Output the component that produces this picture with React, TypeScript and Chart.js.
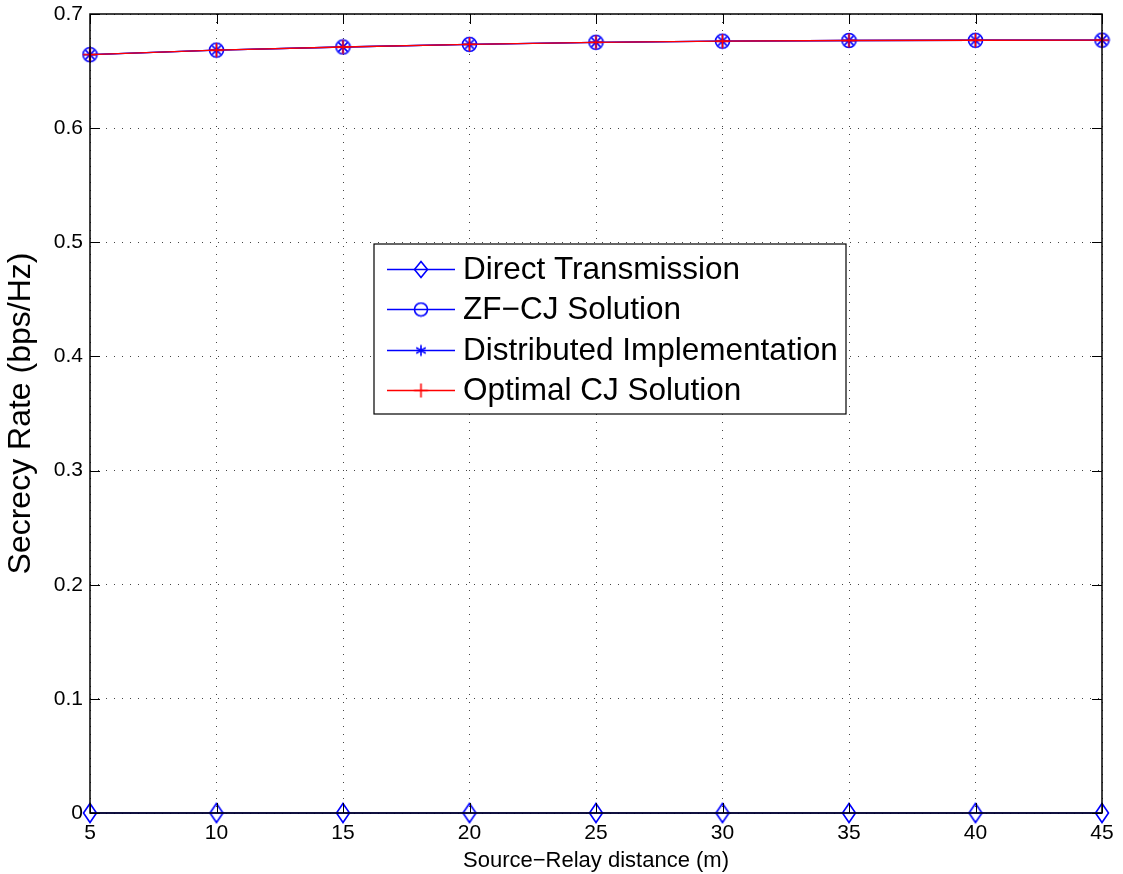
import React, { useEffect, useRef } from "react";
import { Chart, registerables } from "chart.js";

Chart.register(...registerables);

const distances = [5, 10, 15, 20, 25, 30, 35, 40, 45];
const directTransmission = [0, 0, 0, 0, 0, 0, 0, 0, 0];
const zfCjSolution = [0.6644, 0.6684, 0.6711, 0.6734, 0.6752, 0.6762, 0.6768, 0.677, 0.6771];
const distributedImpl = [0.6644, 0.6684, 0.6711, 0.6734, 0.6752, 0.6762, 0.6768, 0.677, 0.6771];
const optimalCj = [0.6644, 0.6684, 0.6711, 0.6734, 0.6752, 0.6762, 0.6768, 0.677, 0.6771];
const seriesLabels = [
  "Direct Transmission",
  "ZF\u2212CJ Solution",
  "Distributed Implementation",
  "Optimal CJ Solution",
];
const yTicks = [0, 0.1, 0.2, 0.3, 0.4, 0.5, 0.6, 0.7];

const BLUE = "#0000ff";
const RED = "#ff0000";
const FONT = "'Liberation Sans', Arial, Helvetica, sans-serif";

function makeMarker(kind: string, color: string, w: number, h: number): HTMLCanvasElement {
  const c = document.createElement("canvas");
  c.width = w + 3;
  c.height = h + 3;
  const ctx = c.getContext("2d")!;
  ctx.strokeStyle = color;
  ctx.lineWidth = 1.6;
  const cx = c.width / 2;
  const cy = c.height / 2;
  const rx = w / 2;
  const ry = h / 2;
  ctx.beginPath();
  if (kind === "diamond") {
    ctx.moveTo(cx, cy - ry);
    ctx.lineTo(cx + rx, cy);
    ctx.lineTo(cx, cy + ry);
    ctx.lineTo(cx - rx, cy);
    ctx.closePath();
  } else if (kind === "circle") {
    ctx.arc(cx, cy, rx, 0, Math.PI * 2);
  } else if (kind === "star") {
    for (let k = 0; k < 4; k++) {
      const a = (k * Math.PI) / 4;
      ctx.moveTo(cx + Math.cos(a) * rx, cy + Math.sin(a) * ry);
      ctx.lineTo(cx - Math.cos(a) * rx, cy - Math.sin(a) * ry);
    }
  } else if (kind === "star6") {
    for (let k = 0; k < 3; k++) {
      const a = Math.PI / 2 + (k * Math.PI) / 3;
      ctx.moveTo(cx + Math.cos(a) * rx, cy + Math.sin(a) * ry);
      ctx.lineTo(cx - Math.cos(a) * rx, cy - Math.sin(a) * ry);
    }
  } else if (kind === "plus") {
    ctx.moveTo(cx, cy - ry);
    ctx.lineTo(cx, cy + ry);
    ctx.moveTo(cx - rx, cy);
    ctx.lineTo(cx + rx, cy);
  }
  ctx.stroke();
  return c;
}

export default function App() {
  const ref = useRef<HTMLCanvasElement | null>(null);

  useEffect(() => {
    if (!ref.current) return;
    const markers = [
      makeMarker("diamond", BLUE, 13, 19),
      makeMarker("circle", BLUE, 14, 14),
      makeMarker("star", BLUE, 13, 13),
      makeMarker("plus", RED, 14, 14),
    ];
    const legendMarkers = [
      makeMarker("diamond", BLUE, 13, 16),
      makeMarker("circle", BLUE, 13, 13),
      makeMarker("star6", BLUE, 11, 11),
      makeMarker("plus", RED, 14, 14),
    ];
    const colors = [BLUE, BLUE, BLUE, RED];
    const seriesData = [directTransmission, zfCjSolution, distributedImpl, optimalCj];

    const frame = {
      id: "frame",
      afterDatasetsDraw(chart: any) {
        const { ctx, chartArea } = chart;
        const { left, right, top, bottom } = chartArea;
        ctx.save();
        ctx.strokeStyle = "#000";
        ctx.lineWidth = 1;
        ctx.beginPath();
        const xs = chart.scales.x;
        const ys = chart.scales.y;
        const len = 10;
        distances.forEach((d) => {
          const px = Math.round(xs.getPixelForValue(d)) + 0.5;
          ctx.moveTo(px, bottom);
          ctx.lineTo(px, bottom - len);
          ctx.moveTo(px, top);
          ctx.lineTo(px, top + len);
        });
        yTicks.forEach((v) => {
          const py = Math.round(ys.getPixelForValue(v)) + 0.5;
          ctx.moveTo(left, py);
          ctx.lineTo(left + len, py);
          ctx.moveTo(right, py);
          ctx.lineTo(right - len, py);
        });
        ctx.stroke();
        ctx.lineWidth = 1.5;
        ctx.strokeRect(left, top, right - left, bottom - top);

        // legend box
        const bx = 374, by = 244, bw = 472, bh = 170;
        ctx.fillStyle = "#fff";
        ctx.fillRect(bx, by, bw, bh);
        ctx.lineWidth = 1.2;
        ctx.strokeStyle = "#000";
        ctx.strokeRect(bx, by, bw, bh);
        ctx.font = `31.5px ${FONT}`;
        ctx.textBaseline = "middle";
        ctx.textAlign = "left";
        seriesLabels.forEach((lab, i) => {
          const ry = Math.round(269 + i * 40.3) + 0.5;
          ctx.strokeStyle = colors[i];
          ctx.lineWidth = 1.3;
          ctx.beginPath();
          ctx.moveTo(387, ry);
          ctx.lineTo(455, ry);
          ctx.stroke();
          const m = legendMarkers[i];
          ctx.drawImage(m, 421 - m.width / 2, ry - m.height / 2);
          ctx.fillStyle = "#000";
          ctx.fillText(lab, 463, ry + 1);
        });
        ctx.restore();
      },
    };

    const chart = new Chart(ref.current, {
      type: "line",
      data: {
        datasets: seriesData.map((vals, i) => ({
          label: seriesLabels[i],
          data: distances.map((d, j) => ({ x: d, y: vals[j] })),
          borderColor: colors[i],
          backgroundColor: colors[i],
          borderWidth: 1.3,
          pointStyle: markers[i] as any,
          pointRadius: 7,
          tension: 0,
          fill: false,
          order: 3 - i,
          clip: false as any,
        })),
      },
      options: {
        animation: false,
        responsive: false,
        devicePixelRatio: 1,
        layout: { padding: { top: 14, right: 21, left: 0, bottom: 0 } },
        plugins: {
          legend: { display: false },
          tooltip: { enabled: false },
        },
        scales: {
          x: {
            type: "linear",
            min: 5,
            max: 45,
            afterFit: (s: any) => {
              s.height = 61;
              s.paddingLeft = 0;
              s.paddingRight = 0;
            },
            ticks: {
              stepSize: 5,
              color: "#000",
              font: { family: FONT, size: 21 },
              padding: 8,
            },
            grid: {
              color: "#444",
              lineWidth: 1,
              drawTicks: false,
              tickLength: 0,
            },
            border: { display: false, dash: [1, 7] },
            title: {
              display: true,
              text: "Source\u2212Relay distance (m)",
              color: "#000",
              font: { family: FONT, size: 22 },
              padding: { top: 0, bottom: 0 },
            },
          },
          y: {
            type: "linear",
            min: 0,
            max: 0.7,
            afterFit: (s: any) => {
              s.width = 90;
              s.paddingTop = 0;
              s.paddingBottom = 0;
            },
            afterBuildTicks: (s: any) => {
              s.ticks = yTicks.map((v) => ({ value: v }));
            },
            ticks: {
              color: "#000",
              font: { family: FONT, size: 21 },
              padding: 7,
              callback: (v: any) => String(Math.round(Number(v) * 10) / 10),
            },
            grid: {
              color: "#444",
              lineWidth: 1,
              drawTicks: false,
              tickLength: 0,
            },
            border: { display: false, dash: [1, 7] },
            title: {
              display: true,
              text: "Secrecy Rate (bps/Hz)",
              color: "#000",
              font: { family: FONT, size: 32 },
              padding: { top: 2, bottom: 0 },
            },
          },
        },
      },
      plugins: [frame],
    } as any);
    return () => chart.destroy();
  }, []);

  return (
    <div style={{ position: "fixed", left: 0, top: 0, width: 1123, height: 874, background: "#fff" }}>
      <canvas ref={ref} width={1123} height={874} style={{ width: 1123, height: 874 }} />
    </div>
  );
}
